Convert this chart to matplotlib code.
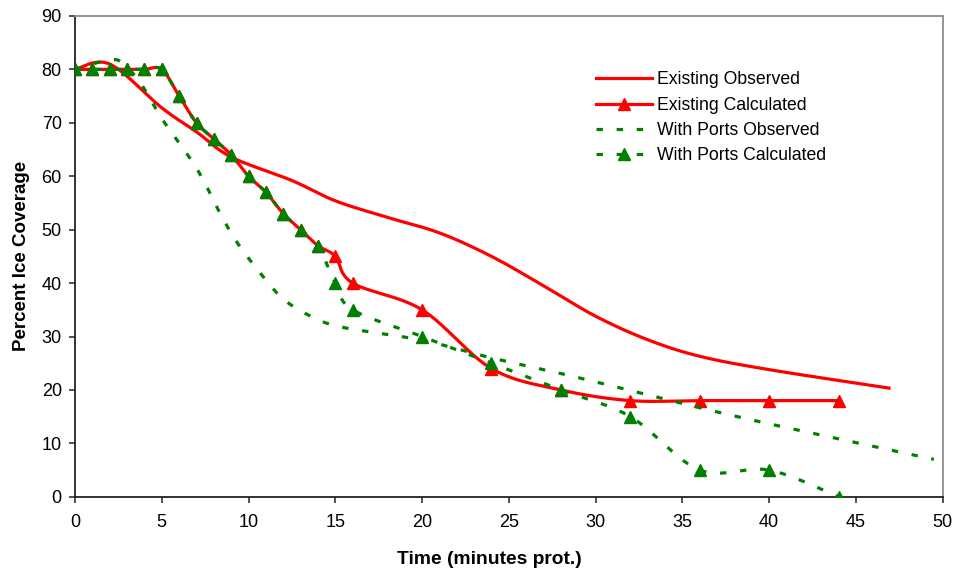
import numpy as np
import matplotlib
matplotlib.use("Agg")
import matplotlib.pyplot as plt
from matplotlib.lines import Line2D

# Observed ice coverage (smoothed curves, no markers)
existing_obs_t = [0, 2, 5, 7, 9, 12.5, 15, 18, 21, 24, 27, 30, 33, 36, 40, 47]
existing_obs_v = [80, 81, 72.8, 68.3, 63.6, 59.2, 55.4, 52.3, 49.4, 45.0, 39.5, 33.8, 29.4, 26.3, 23.8, 20.3]

ports_obs_t = [0, 2, 2.8, 3.8, 5, 7, 8.4, 9.3, 10.2, 11.1, 12, 13.4, 15.3, 20, 24, 29, 37.5, 44.5, 49.5]
ports_obs_v = [80, 81.8, 81.0, 77.3, 70.8, 61.5, 52.8, 47.8, 43.8, 40.2, 37.0, 34.1, 31.8, 29.3, 26.0, 22.3, 15.5, 10.5, 7.0]

# Calculated ice coverage (with markers)
calc_t = [0, 1, 2, 3, 4, 5, 6, 7, 8, 9, 10, 11, 12, 13, 14, 15, 16, 20, 24, 28, 32, 36, 40, 44]
existing_calc_v = [80, 80, 80, 80, 80, 80, 75, 70, 67, 64, 60, 57, 53, 50, 47, 45, 40, 35, 24, 20, 18, 18, 18, 18]
ports_calc_v = [80, 80, 80, 80, 80, 80, 75, 70, 67, 64, 60, 57, 53, 50, 47, 40, 35, 30, 25, 20, 15, 5, 5, 0]

x_ticks = list(range(0, 51, 5))
y_ticks = list(range(0, 91, 10))


def smooth_curve(x, y, n=30):
    """Cubic Bezier smoothing through every point (spreadsheet-style)."""
    p = np.column_stack([x, y]).astype(float)
    segs = []
    t = np.linspace(0, 1, n)[:, None]
    for i in range(len(p) - 1):
        p0 = p[i - 1] if i > 0 else p[i]
        p1 = p[i]
        p2 = p[i + 1]
        p3 = p[i + 2] if i + 2 < len(p) else p[i + 1]
        c1 = p1 + (p2 - p0) / 6.0
        c2 = p2 - (p3 - p1) / 6.0
        b = ((1 - t) ** 3) * p1 + 3 * ((1 - t) ** 2) * t * c1 + 3 * (1 - t) * t ** 2 * c2 + t ** 3 * p2
        segs.append(b if i == 0 else b[1:])
    s = np.vstack(segs)
    return s[:, 0], s[:, 1]


plt.rcParams['font.family'] = ['Liberation Sans', 'DejaVu Sans']

fig = plt.figure(figsize=(9.56, 5.71), dpi=100)
ax = fig.add_axes([0.0785, 0.130, 0.9075, 0.842])

red = '#ff0000'
green = '#008000'
lw = 2.3
ms = 8.5
dots = (0, (2, 4.3))

xs, ys = smooth_curve(existing_obs_t, existing_obs_v)
ax.plot(xs, ys, color=red, lw=lw, solid_capstyle='butt', zorder=3)

xs, ys = smooth_curve(calc_t, existing_calc_v)
ax.plot(xs, ys, color=red, lw=lw, zorder=4)
ax.plot(calc_t, existing_calc_v, ls='none', marker='^', ms=ms, color=red, zorder=4)

xs, ys = smooth_curve(ports_obs_t, ports_obs_v)
ax.plot(xs, ys, color=green, lw=lw, ls=dots, dash_capstyle='butt', zorder=5)

xs, ys = smooth_curve(calc_t, ports_calc_v)
ax.plot(xs, ys, color=green, lw=lw, ls=dots, dash_capstyle='butt', zorder=6)
ax.plot(calc_t, ports_calc_v, ls='none', marker='^', ms=ms, color=green, zorder=6)

ax.set_xlim(0, 50)
ax.set_ylim(0, 90)
ax.set_xticks(x_ticks)
ax.set_yticks(y_ticks)
ax.tick_params(axis='both', direction='out', length=4.5, width=1.1, colors='#222222',
               labelsize=13, labelcolor='black')
ax.tick_params(axis='x', pad=8)
ax.tick_params(axis='y', pad=5)

for side in ('left', 'bottom'):
    ax.spines[side].set_color('#222222')
    ax.spines[side].set_linewidth(1.3)
for side in ('top', 'right'):
    ax.spines[side].set_color('#8c8c8c')
    ax.spines[side].set_linewidth(1.3)

ax.set_xlabel('Time (minutes prot.)', fontsize=13.9, fontweight='bold', labelpad=13)
ax.xaxis.set_label_coords(0.478, -0.112)
ax.set_ylabel('Percent Ice Coverage', fontsize=13.5, fontweight='bold', labelpad=8)

handles = [
    Line2D([], [], color=red, lw=lw),
    Line2D([], [], color=red, lw=lw, marker='^', ms=ms),
    Line2D([], [], color=green, lw=lw, ls=dots, dash_capstyle='butt'),
    Line2D([], [], color=green, lw=lw, ls=dots, dash_capstyle='butt', marker='^', ms=ms),
]
labels = ['Existing Observed', 'Existing Calculated', 'With Ports Observed', 'With Ports Calculated']
ax.legend(handles, labels, loc='upper left', bbox_to_anchor=(596 / 956, 1 - 71.5 / 571),
          bbox_transform=fig.transFigure, frameon=False, fontsize=12.7,
          handlelength=3.2, handletextpad=0.25, labelspacing=0.47, borderpad=0,
          borderaxespad=0)

fig.savefig('out.png', dpi=100)
